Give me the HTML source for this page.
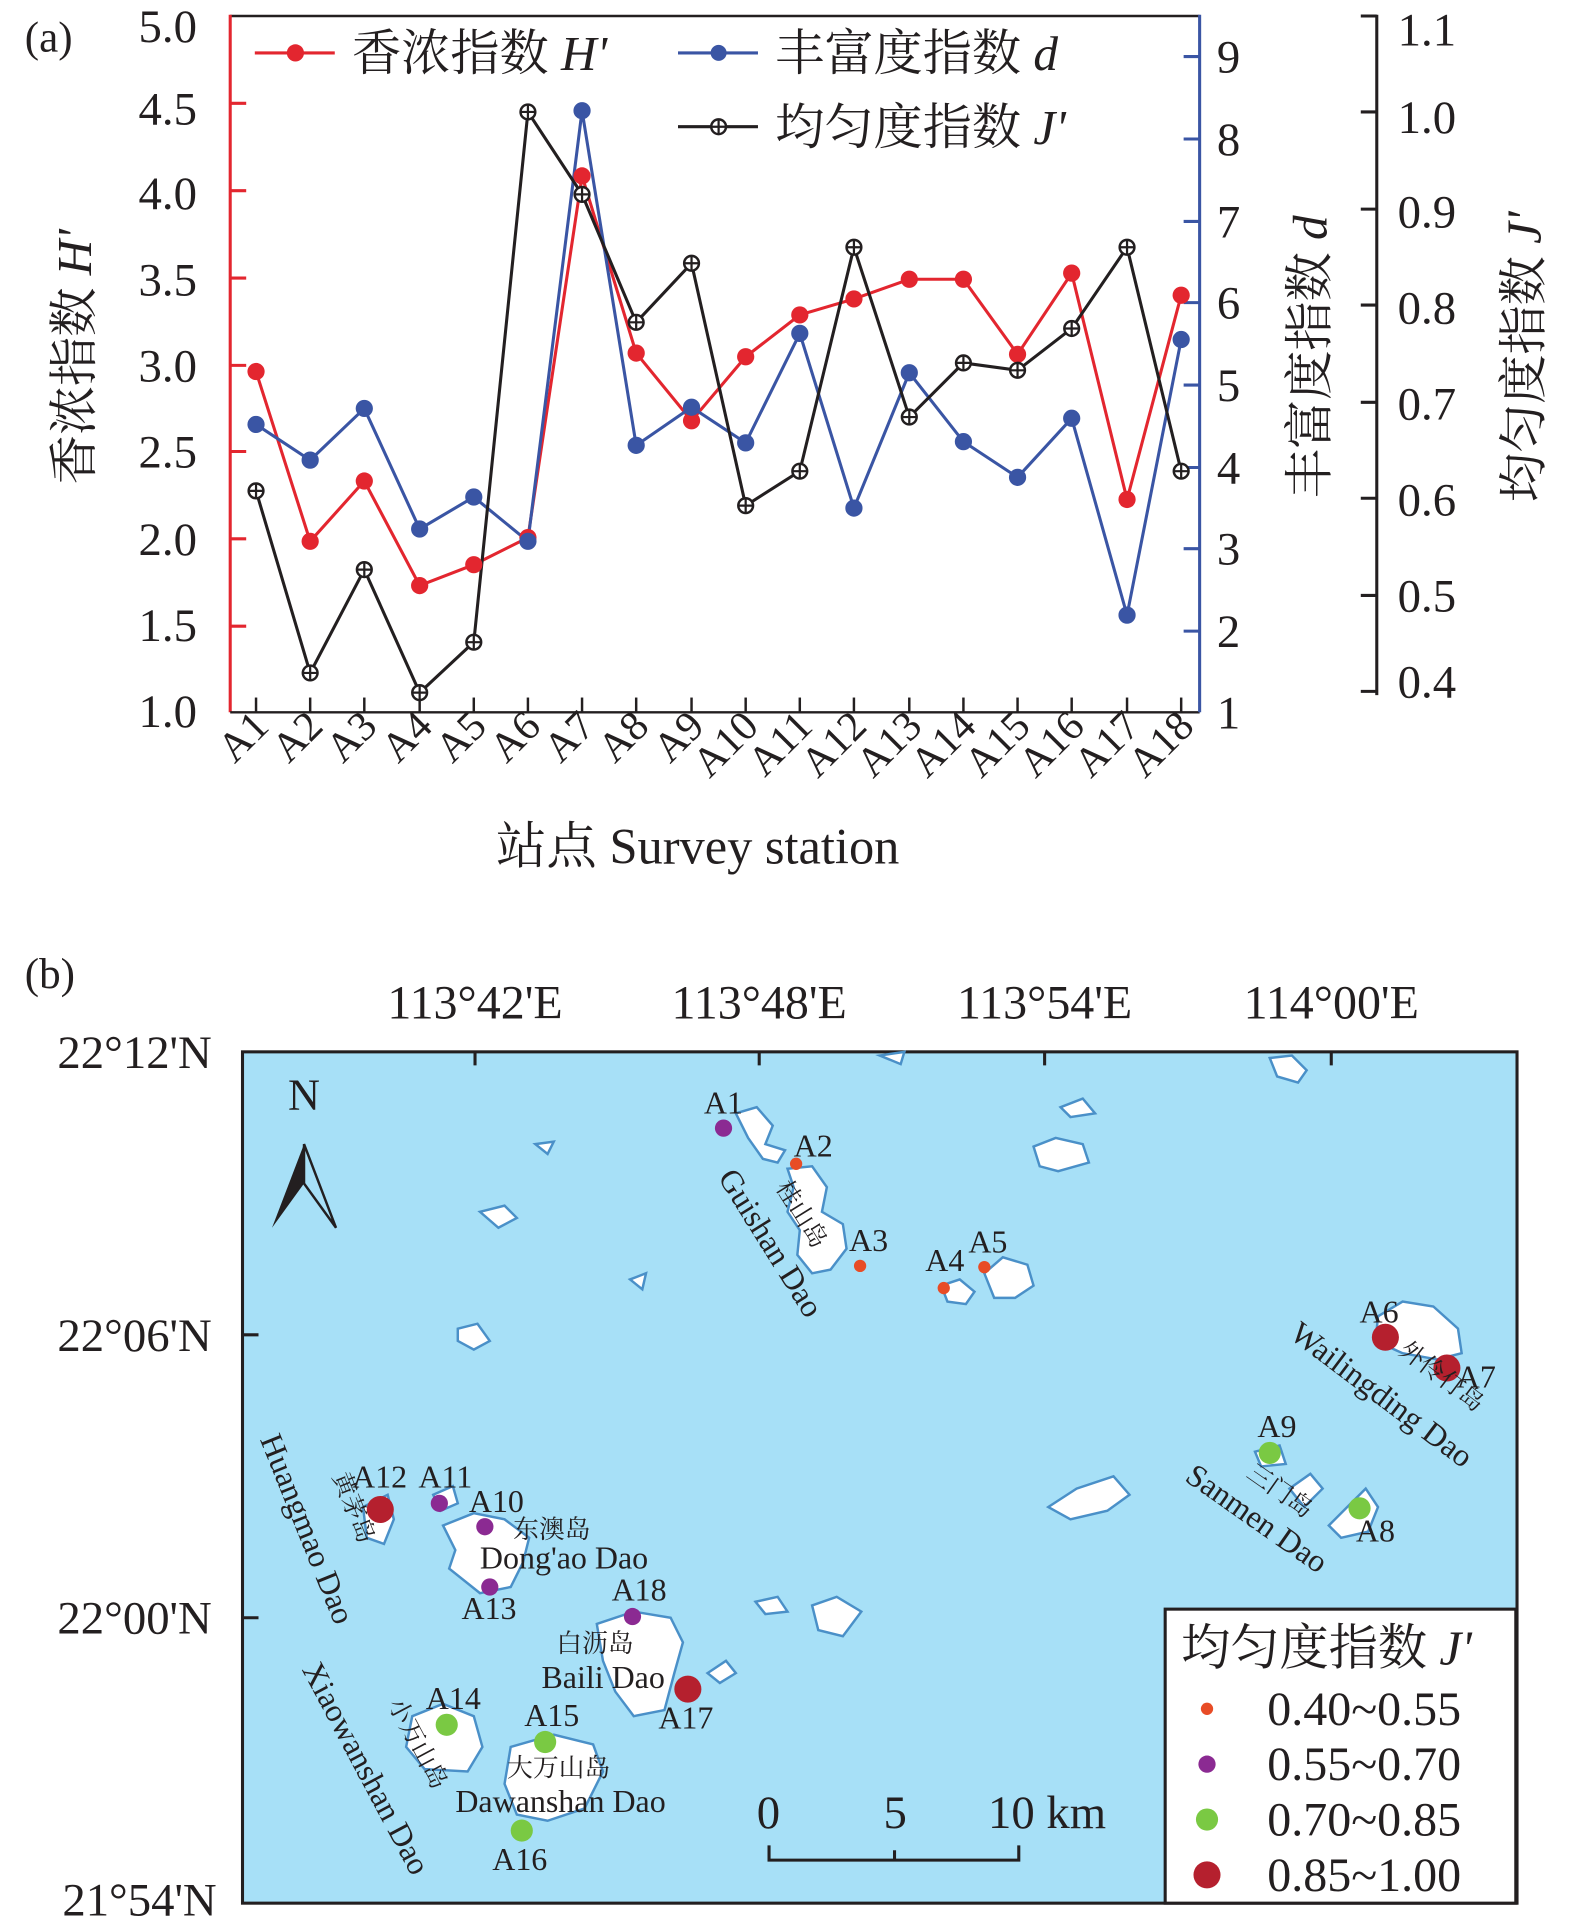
<!DOCTYPE html>
<html><head><meta charset="utf-8"><style>
html,body{margin:0;padding:0;background:#fff}
svg{display:block}
text{font-family:"Liberation Serif","Noto Serif CJK SC",serif;fill:#231f20}
</style></head><body>
<svg width="1575" height="1929" viewBox="0 0 1280 1568" xmlns="http://www.w3.org/2000/svg">
<defs><g id="pl"><circle r="6" fill="#fff" stroke="#231f20" stroke-width="2"/><path d="M-6,0H6M0,-6V6" stroke="#231f20" stroke-width="1.8"/></g></defs>
<!-- (a) -->
<text x="20" y="42" font-size="35">(a)</text>
<line x1="187" y1="13" x2="975" y2="13" stroke="#231f20" stroke-width="2"/>
<line x1="187" y1="12" x2="187" y2="579" stroke="#e3262f" stroke-width="2.5"/>
<line x1="187" y1="579" x2="975" y2="579" stroke="#231f20" stroke-width="2"/>
<line x1="975" y1="12" x2="975" y2="579" stroke="#3a55a4" stroke-width="2.5"/>
<line x1="1119" y1="12" x2="1119" y2="565" stroke="#231f20" stroke-width="2.5"/>
<g stroke="#e3262f" stroke-width="2.5">
<line x1="187" x2="200" y1="84" y2="84"/><line x1="187" x2="200" y1="155" y2="155"/><line x1="187" x2="200" y1="226" y2="226"/><line x1="187" x2="200" y1="297" y2="297"/><line x1="187" x2="200" y1="367" y2="367"/><line x1="187" x2="200" y1="438" y2="438"/><line x1="187" x2="200" y1="509" y2="509"/>
</g>
<g font-size="38" text-anchor="end">
<text x="160" y="34">5.0</text><text x="160" y="101">4.5</text><text x="160" y="170">4.0</text><text x="160" y="240">3.5</text><text x="160" y="310">3.0</text><text x="160" y="380">2.5</text><text x="160" y="451">2.0</text><text x="160" y="521">1.5</text><text x="160" y="591">1.0</text>
</g>
<g stroke="#3a55a4" stroke-width="2.5">
<line x1="962" x2="975" y1="46" y2="46"/><line x1="962" x2="975" y1="113" y2="113"/><line x1="962" x2="975" y1="180" y2="180"/><line x1="962" x2="975" y1="246" y2="246"/><line x1="962" x2="975" y1="313" y2="313"/><line x1="962" x2="975" y1="380" y2="380"/><line x1="962" x2="975" y1="446" y2="446"/><line x1="962" x2="975" y1="513" y2="513"/>
</g>
<g font-size="38">
<text x="989" y="59">9</text><text x="989" y="126">8</text><text x="989" y="193">7</text><text x="989" y="259">6</text><text x="989" y="326">5</text><text x="989" y="393">4</text><text x="989" y="459">3</text><text x="989" y="526">2</text><text x="989" y="592">1</text>
</g>
<g stroke="#231f20" stroke-width="2.5">
<line x1="1106" x2="1119" y1="13" y2="13"/><line x1="1106" x2="1119" y1="91" y2="91"/><line x1="1106" x2="1119" y1="170" y2="170"/><line x1="1106" x2="1119" y1="248" y2="248"/><line x1="1106" x2="1119" y1="327" y2="327"/><line x1="1106" x2="1119" y1="405" y2="405"/><line x1="1106" x2="1119" y1="484" y2="484"/><line x1="1106" x2="1119" y1="562" y2="562"/>
</g>
<g font-size="38">
<text x="1136" y="37">1.1</text><text x="1136" y="108">1.0</text><text x="1136" y="185">0.9</text><text x="1136" y="263">0.8</text><text x="1136" y="341">0.7</text><text x="1136" y="419">0.6</text><text x="1136" y="497">0.5</text><text x="1136" y="567">0.4</text>
</g>
<text transform="translate(74,290) rotate(-90)" font-size="40" text-anchor="middle">香浓指数 <tspan font-style="italic">H'</tspan></text>
<text transform="translate(1078,290) rotate(-90)" font-size="40" text-anchor="middle">丰富度指数 <tspan font-style="italic">d</tspan></text>
<text transform="translate(1252,290) rotate(-90)" font-size="40" text-anchor="middle">均匀度指数 <tspan font-style="italic">J'</tspan></text>
<g stroke="#231f20" stroke-width="2">
<line x1="208" x2="208" y1="567" y2="579"/><line x1="252" x2="252" y1="567" y2="579"/><line x1="296" x2="296" y1="567" y2="579"/><line x1="341" x2="341" y1="567" y2="579"/><line x1="385" x2="385" y1="567" y2="579"/><line x1="429" x2="429" y1="567" y2="579"/><line x1="473" x2="473" y1="567" y2="579"/><line x1="517" x2="517" y1="567" y2="579"/><line x1="562" x2="562" y1="567" y2="579"/><line x1="606" x2="606" y1="567" y2="579"/><line x1="650" x2="650" y1="567" y2="579"/><line x1="694" x2="694" y1="567" y2="579"/><line x1="739" x2="739" y1="567" y2="579"/><line x1="783" x2="783" y1="567" y2="579"/><line x1="827" x2="827" y1="567" y2="579"/><line x1="871" x2="871" y1="567" y2="579"/><line x1="916" x2="916" y1="567" y2="579"/><line x1="960" x2="960" y1="567" y2="579"/>
</g>
<g font-size="34" text-anchor="end">
<text transform="translate(220,592) rotate(-45)">A1</text><text transform="translate(264,592) rotate(-45)">A2</text><text transform="translate(308,592) rotate(-45)">A3</text><text transform="translate(353,592) rotate(-45)">A4</text><text transform="translate(397,592) rotate(-45)">A5</text><text transform="translate(441,592) rotate(-45)">A6</text><text transform="translate(485,592) rotate(-45)">A7</text><text transform="translate(529,592) rotate(-45)">A8</text><text transform="translate(574,592) rotate(-45)">A9</text><text transform="translate(618,592) rotate(-45)">A10</text><text transform="translate(662,592) rotate(-45)">A11</text><text transform="translate(706,592) rotate(-45)">A12</text><text transform="translate(751,592) rotate(-45)">A13</text><text transform="translate(795,592) rotate(-45)">A14</text><text transform="translate(839,592) rotate(-45)">A15</text><text transform="translate(883,592) rotate(-45)">A16</text><text transform="translate(928,592) rotate(-45)">A17</text><text transform="translate(972,592) rotate(-45)">A18</text>
</g>
<text x="567" y="702" font-size="41" text-anchor="middle">站点 Survey station</text>
<!-- series -->
<polyline fill="none" stroke="#e3262f" stroke-width="2.5" points="208,302 252,440 296,391 341,476 385,459 429,437 473,143 517,287 562,342 606,290 650,256 694,243 739,227 783,227 827,288 871,222 916,406 960,240"/>
<polyline fill="none" stroke="#3a55a4" stroke-width="2.5" points="208,345 252,374 296,332 341,430 385,404 429,440 473,90 517,362 562,331 606,360 650,271 694,413 739,303 783,359 827,388 871,340 916,500 960,276"/>
<polyline fill="none" stroke="#231f20" stroke-width="2.5" points="208,399 252,547 296,463 341,563 385,522 429,91 473,158 517,262 562,214 606,411 650,383 694,201 739,339 783,295 827,301 871,267 916,201 960,383"/>
<g fill="#e3262f">
<circle cx="208" cy="302" r="7"/><circle cx="252" cy="440" r="7"/><circle cx="296" cy="391" r="7"/><circle cx="341" cy="476" r="7"/><circle cx="385" cy="459" r="7"/><circle cx="429" cy="437" r="7"/><circle cx="473" cy="143" r="7"/><circle cx="517" cy="287" r="7"/><circle cx="562" cy="342" r="7"/><circle cx="606" cy="290" r="7"/><circle cx="650" cy="256" r="7"/><circle cx="694" cy="243" r="7"/><circle cx="739" cy="227" r="7"/><circle cx="783" cy="227" r="7"/><circle cx="827" cy="288" r="7"/><circle cx="871" cy="222" r="7"/><circle cx="916" cy="406" r="7"/><circle cx="960" cy="240" r="7"/>
</g>
<g fill="#3a55a4" stroke="#3a55a4" stroke-width="1">
<circle cx="208" cy="345" r="6.5"/><circle cx="252" cy="374" r="6.5"/><circle cx="296" cy="332" r="6.5"/><circle cx="341" cy="430" r="6.5"/><circle cx="385" cy="404" r="6.5"/><circle cx="429" cy="440" r="6.5"/><circle cx="473" cy="90" r="6.5"/><circle cx="517" cy="362" r="6.5"/><circle cx="562" cy="331" r="6.5"/><circle cx="606" cy="360" r="6.5"/><circle cx="650" cy="271" r="6.5"/><circle cx="694" cy="413" r="6.5"/><circle cx="739" cy="303" r="6.5"/><circle cx="783" cy="359" r="6.5"/><circle cx="827" cy="388" r="6.5"/><circle cx="871" cy="340" r="6.5"/><circle cx="916" cy="500" r="6.5"/><circle cx="960" cy="276" r="6.5"/>
</g>
<g>
<use href="#pl" x="208" y="399"/><use href="#pl" x="252" y="547"/><use href="#pl" x="296" y="463"/><use href="#pl" x="341" y="563"/><use href="#pl" x="385" y="522"/><use href="#pl" x="429" y="91"/><use href="#pl" x="473" y="158"/><use href="#pl" x="517" y="262"/><use href="#pl" x="562" y="214"/><use href="#pl" x="606" y="411"/><use href="#pl" x="650" y="383"/><use href="#pl" x="694" y="201"/><use href="#pl" x="739" y="339"/><use href="#pl" x="783" y="295"/><use href="#pl" x="827" y="301"/><use href="#pl" x="871" y="267"/><use href="#pl" x="916" y="201"/><use href="#pl" x="960" y="383"/>
</g>
<!-- legend -->
<line x1="207" y1="43" x2="272" y2="43" stroke="#e3262f" stroke-width="2.5"/><circle cx="240" cy="43" r="7" fill="#e3262f"/>
<text x="286" y="57" font-size="40">香浓指数 <tspan font-style="italic">H'</tspan></text>
<line x1="551" y1="43" x2="616" y2="43" stroke="#3a55a4" stroke-width="2.5"/><circle cx="584" cy="43" r="6.5" fill="#3a55a4"/>
<text x="630" y="57" font-size="40">丰富度指数 <tspan font-style="italic">d</tspan></text>
<line x1="551" y1="103" x2="616" y2="103" stroke="#231f20" stroke-width="2.5"/><use href="#pl" x="584" y="103"/>
<text x="630" y="117" font-size="40">均匀度指数 <tspan font-style="italic">J'</tspan></text>

<!-- (b) -->
<text x="20" y="803" font-size="35">(b)</text>
<g font-size="39" text-anchor="middle">
<text x="386" y="828">113°42'E</text><text x="617" y="828">113°48'E</text><text x="849" y="828">113°54'E</text><text x="1082" y="828">114°00'E</text>
</g>
<g font-size="38" text-anchor="end">
<text x="172" y="868">22°12'N</text><text x="172" y="1098">22°06'N</text><text x="172" y="1328">22°00'N</text><text x="176" y="1557">21°54'N</text>
</g>
<rect x="197" y="855" width="1036" height="692" fill="#a7e0f7" stroke="#231f20" stroke-width="2.5"/>
<g stroke="#231f20" stroke-width="2.5">
<line x1="197" x2="210" y1="1085" y2="1085"/><line x1="197" x2="210" y1="1315" y2="1315"/>
<line x1="386" x2="386" y1="855" y2="866"/><line x1="617" x2="617" y1="855" y2="866"/><line x1="849" x2="849" y1="855" y2="866"/><line x1="1082" x2="1082" y1="855" y2="866"/>
</g>
<!-- islands -->
<g fill="#fff" stroke="#4a90c8" stroke-width="2">
<path d="M598,905 L615,900 L628,915 L622,930 L638,935 L632,945 L620,942 L608,925 Z"/>
<path d="M640,950 L660,948 L672,965 L668,985 L685,995 L688,1015 L675,1032 L660,1035 L648,1020 L650,1000 L640,985 L645,965 Z"/>
<path d="M765,1045 L780,1040 L792,1050 L785,1060 L770,1058 Z"/>
<path d="M800,1035 L815,1022 L835,1028 L840,1045 L825,1055 L808,1055 Z"/>
<path d="M1120,1070 L1140,1058 L1165,1062 L1185,1080 L1188,1100 L1168,1105 L1140,1100 L1118,1090 Z"/>
<path d="M1080,1240 L1095,1225 L1110,1210 L1120,1225 L1112,1245 L1090,1250 Z"/>
<path d="M1048,1210 L1065,1198 L1075,1210 L1060,1225 Z"/>
<path d="M1020,1180 L1040,1175 L1045,1190 L1025,1192 Z"/>
<path d="M852,1225 L875,1210 L905,1200 L918,1215 L900,1228 L870,1235 Z"/>
<path d="M360,1240 L385,1230 L410,1235 L430,1250 L425,1270 L415,1290 L390,1295 L365,1275 L370,1260 Z"/>
<path d="M295,1225 L315,1215 L320,1235 L312,1255 L298,1250 Z"/>
<path d="M352,1215 L368,1208 L372,1222 L358,1228 Z"/>
<path d="M485,1320 L515,1310 L545,1315 L555,1335 L548,1360 L540,1390 L515,1395 L500,1375 L490,1350 Z"/>
<path d="M335,1395 L360,1385 L385,1395 L392,1420 L380,1440 L345,1438 L330,1420 Z"/>
<path d="M415,1420 L450,1410 L482,1418 L490,1440 L475,1470 L445,1480 L420,1475 L410,1450 Z"/>
<path d="M390,985 L410,980 L420,990 L405,998 Z"/>
<path d="M372,1080 L388,1076 L398,1090 L385,1097 L372,1090 Z"/>
<path d="M614,1302 L632,1298 L640,1310 L622,1312 Z"/>
<path d="M660,1305 L680,1298 L700,1310 L685,1330 L665,1325 Z"/>
<path d="M840,932 L858,925 L880,930 L885,945 L860,952 L845,948 Z"/>
<path d="M1032,860 L1050,858 L1062,870 L1055,880 L1038,875 Z"/>
<path d="M575,1360 L590,1350 L598,1360 L585,1368 Z"/>
<path d="M512,1040 L525,1035 L522,1048 Z"/>
<path d="M435,930 L450,928 L445,938 Z"/>
<path d="M862,900 L880,893 L890,905 L870,908 Z"/>
<path d="M715,858 L735,855 L732,865 Z"/>
</g>
<!-- north arrow -->
<polygon points="247,930 221,998 247,962" fill="#231f20"/>
<polygon points="247,930 273,998 247,962" fill="none" stroke="#231f20" stroke-width="2"/>
<text x="247" y="902" font-size="36" text-anchor="middle">N</text>
<!-- stations -->
<g fill="#e84c26"><circle cx="647" cy="946" r="5"/><circle cx="699" cy="1029" r="5"/><circle cx="767" cy="1047" r="5"/><circle cx="800" cy="1030" r="5"/></g>
<g fill="#8b2a92"><circle cx="588" cy="917" r="7"/><circle cx="357" cy="1222" r="7"/><circle cx="394" cy="1241" r="7"/><circle cx="398" cy="1290" r="7"/><circle cx="514" cy="1314" r="7"/></g>
<g fill="#7ac943"><circle cx="1032" cy="1181" r="9"/><circle cx="1105" cy="1226" r="9"/><circle cx="363" cy="1402" r="9"/><circle cx="443" cy="1416" r="9"/><circle cx="424" cy="1488" r="9"/></g>
<g fill="#b5202e"><circle cx="1126" cy="1087" r="11"/><circle cx="1176" cy="1112" r="11"/><circle cx="309" cy="1227" r="11"/><circle cx="559" cy="1373" r="11"/></g>
<g font-size="26">
<text x="572" y="905">A1</text><text x="645" y="940">A2</text><text x="690" y="1017">A3</text><text x="752" y="1033">A4</text><text x="787" y="1018">A5</text><text x="1105" y="1075">A6</text><text x="1184" y="1128">A7</text><text x="1102" y="1253">A8</text><text x="1022" y="1168">A9</text><text x="381" y="1229">A10</text><text x="340" y="1209">A11</text><text x="286" y="1209">A12</text><text x="375" y="1316">A13</text><text x="346" y="1389">A14</text><text x="426" y="1403">A15</text><text x="400" y="1520">A16</text><text x="535" y="1405">A17</text><text x="497" y="1301">A18</text>
</g>
<g font-size="26">
<text transform="translate(583,957) rotate(58)">Guishan Dao</text>
<text transform="translate(630,965) rotate(58)" font-size="20">桂山岛</text>
<text transform="translate(1047,1087) rotate(37)">Wailingding Dao</text>
<text transform="translate(1136,1100) rotate(37)" font-size="20">外伶仃岛</text>
<text transform="translate(962,1203) rotate(35)">Sanmen Dao</text>
<text transform="translate(1012,1200) rotate(35)" font-size="20">三门岛</text>
<text transform="translate(211,1170) rotate(68)">Huangmao Dao</text>
<text transform="translate(270,1200) rotate(68)" font-size="20">黄茅岛</text>
<text transform="translate(245,1357) rotate(62)">Xiaowanshan Dao</text>
<text transform="translate(315,1385) rotate(62)" font-size="20">小万山岛</text>
<text x="390" y="1275">Dong'ao Dao</text><text x="417" y="1250" font-size="21">东澳岛</text>
<text x="440" y="1372">Baili Dao</text><text x="452" y="1343" font-size="21">白沥岛</text>
<text x="370" y="1473">Dawanshan Dao</text><text x="412" y="1444" font-size="21">大万山岛</text>
</g>
<!-- scale -->
<g stroke="#231f20" stroke-width="2.5" fill="none"><polyline points="625,1500 625,1512 828,1512 828,1500"/><line x1="727" y1="1504" x2="727" y2="1512"/></g>
<g font-size="38"><text x="615" y="1486">0</text><text x="718" y="1486">5</text><text x="803" y="1486">10 km</text></g>
<!-- legend b -->
<rect x="947" y="1308" width="285" height="239" fill="#fff" stroke="#231f20" stroke-width="2.5"/>
<text x="960" y="1353" font-size="40">均匀度指数 <tspan font-style="italic">J'</tspan></text>
<circle cx="981" cy="1389" r="5" fill="#e84c26"/><circle cx="981" cy="1434" r="7" fill="#8b2a92"/><circle cx="981" cy="1479" r="9" fill="#7ac943"/><circle cx="981" cy="1524" r="11" fill="#b5202e"/>
<g font-size="39"><text x="1030" y="1402">0.40~0.55</text><text x="1030" y="1447">0.55~0.70</text><text x="1030" y="1492">0.70~0.85</text><text x="1030" y="1537">0.85~1.00</text></g>
</svg>
</body></html>
